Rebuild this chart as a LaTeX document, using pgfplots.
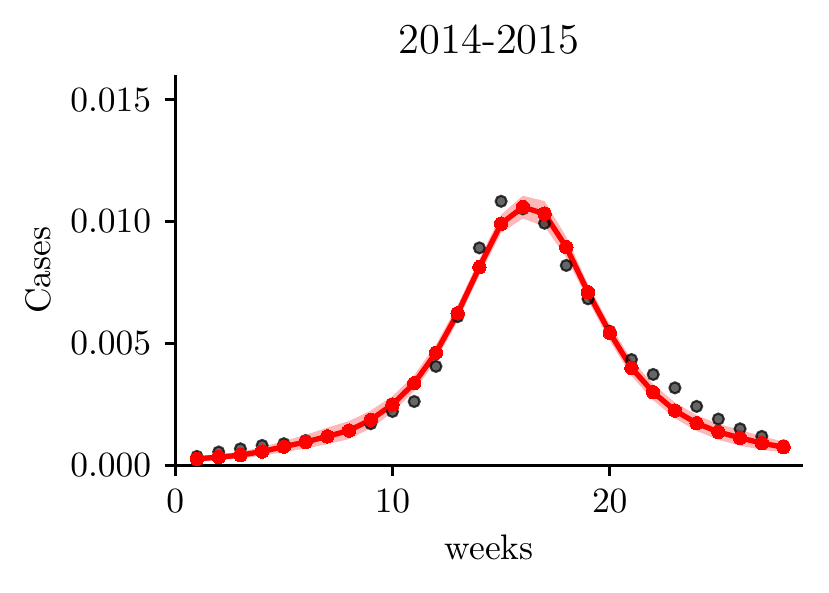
\documentclass[border=0pt]{standalone}
\usepackage{pgfplots}
\pgfplotsset{compat=1.18}
\usepackage{pgfplotstable}
\usepgfplotslibrary{fillbetween}
\usetikzlibrary{calc}

\pgfplotstableread{
x fit lo hi obs
1 0.00027 0.00015 0.00039 0.00037
2 0.00034 0.00022 0.00046 0.00055
3 0.00042 0.00028 0.00056 0.00068
4 0.00057 0.00040 0.00075 0.00082
5 0.00077 0.00055 0.00100 0.00089
6 0.00096 0.00069 0.00125 0.00102
7 0.00119 0.00087 0.00155 0.00120
8 0.00143 0.00108 0.00182 0.00143
9 0.00187 0.00152 0.00225 0.00171
10 0.00250 0.00218 0.00284 0.00221
11 0.00337 0.00305 0.00370 0.00262
12 0.00462 0.00430 0.00495 0.00406
13 0.00624 0.00592 0.00657 0.00610
14 0.00813 0.00780 0.00846 0.00892
15 0.00991 0.00954 0.01028 0.01083
16 0.01059 0.01012 0.01106 0.01052
17 0.01032 0.00980 0.01084 0.00993
18 0.00895 0.00852 0.00938 0.00820
19 0.00710 0.00677 0.00743 0.00683
20 0.00544 0.00511 0.00577 0.00550
21 0.00400 0.00367 0.00433 0.00434
22 0.00300 0.00267 0.00333 0.00373
23 0.00225 0.00193 0.00258 0.00318
24 0.00173 0.00141 0.00206 0.00242
25 0.00137 0.00105 0.00170 0.00190
26 0.00113 0.00081 0.00146 0.00150
27 0.00091 0.00064 0.00119 0.00119
28 0.00075 0.00053 0.00098 0.00080
}\datatable

\begin{document}
\begin{tikzpicture}
\begin{axis}[
  scale only axis,
  width=177pt, height=110pt,
  xmin=0, xmax=28.9,
  ymin=0, ymax=0.016,
  axis lines=left,
  axis line style={line width=0.8pt, -},
  every tick/.style={black, line width=0.8pt},
  tick align=outside,
  major tick length=3pt,
  xtick={0,10,20},
  ytick={0,0.005,0.010,0.015},
  minor tick num=0,
  scaled y ticks=false,
  yticklabel style={/pgf/number format/fixed, /pgf/number format/fixed zerofill, /pgf/number format/precision=3, anchor=east, inner sep=0pt, xshift=-3.6pt},
  xticklabel style={anchor=base, inner sep=0pt, yshift=-10.4pt},
  title={2014-2015},
  title style={at={(axis description cs:0.5,1)}, anchor=base, font=\large, inner sep=0pt},
  xlabel={weeks},
  xlabel style={at={([yshift=-26.6pt]axis description cs:0.5,0)}, anchor=base, inner sep=0pt},
  ylabel={Cases},
  ylabel style={at={([xshift=-35.3pt]axis description cs:0,0.5)}, anchor=base, inner sep=0pt},
  clip=false,
]
\addplot[name path=up, draw=none, forget plot] table[x=x, y=hi] {\datatable};
\addplot[name path=lo, draw=none, forget plot] table[x=x, y=lo] {\datatable};
\addplot[fill=red, fill opacity=0.28, draw=none] fill between[of=up and lo];
\addplot[only marks, mark=*, mark size=1.55pt, mark options={fill=black, draw=black, fill opacity=0.6, draw opacity=0.75, line width=0.6pt}] table[x=x, y=obs] {\datatable};
\addplot[red, line width=1.5pt, mark=*, mark size=1.9pt, mark options={fill=red, draw=red, line width=0pt}] table[x=x, y=fit] {\datatable};
\end{axis}
\pgfresetboundingbox
\path ($(current axis.south west)+(-49.4pt,-35.9pt)$) rectangle ($(current axis.north east)+(7.3pt,21.2pt)$);
\end{tikzpicture}
\end{document}
